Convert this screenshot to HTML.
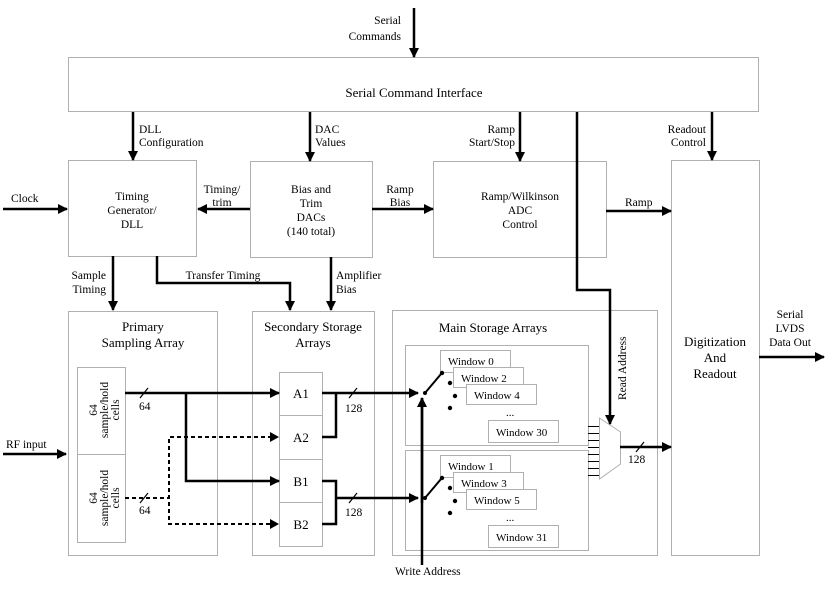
<!DOCTYPE html>
<html><head><meta charset="utf-8"><style>
html,body{margin:0;padding:0;background:#fff;}
svg{display:block;font-family:"Liberation Serif",serif;}
</style></head><body>
<svg width="830" height="595" viewBox="0 0 830 595" xmlns="http://www.w3.org/2000/svg">
<defs>
<marker id="a" markerWidth="10" markerHeight="10" refX="9" refY="5" orient="auto" markerUnits="userSpaceOnUse"><path d="M0,0 L10,5 L0,10 z" fill="#000"/></marker>
</defs>
<g fill="#fff" stroke="#b0b0b0" stroke-width="1">
<rect x="68.5" y="57.5" width="690" height="54"/>
<rect x="68.5" y="160.5" width="128" height="96"/>
<rect x="250.5" y="161.5" width="122" height="96"/>
<rect x="433.5" y="161.5" width="173" height="96"/>
<rect x="671.5" y="160.5" width="88" height="395"/>
<rect x="68.5" y="311.5" width="149" height="244"/>
<rect x="252.5" y="311.5" width="122" height="244"/>
<rect x="392.5" y="310.5" width="265" height="245"/>
<rect x="77.5" y="367.5" width="48" height="175"/>
<line x1="77" y1="454.5" x2="125" y2="454.5"/>
<rect x="279.5" y="372.5" width="43" height="174"/>
<line x1="279" y1="415.5" x2="322" y2="415.5"/>
<line x1="279" y1="459.5" x2="322" y2="459.5"/>
<line x1="279" y1="502.5" x2="322" y2="502.5"/>
<rect x="405.5" y="345.5" width="183" height="100"/>
<rect x="405.5" y="450.5" width="183" height="100"/>
<rect x="440.5" y="350.5" width="70" height="22"/>
<rect x="453.5" y="367.5" width="70" height="20"/>
<rect x="466.5" y="384.5" width="70" height="20"/>
<rect x="488.5" y="420.5" width="70" height="22"/>
<rect x="440.5" y="455.5" width="70" height="22"/>
<rect x="453.5" y="472.5" width="70" height="20"/>
<rect x="466.5" y="489.5" width="70" height="20"/>
<rect x="488.5" y="525.5" width="70" height="22"/>
<path d="M599.5,418 L620.5,432 L620.5,464 L599.5,479 z"/>
</g>
<g stroke="#000" stroke-width="1"><line x1="588" y1="426.5" x2="599" y2="426.5"/><line x1="588" y1="433.5" x2="599" y2="433.5"/><line x1="588" y1="440.5" x2="599" y2="440.5"/><line x1="588" y1="447.5" x2="599" y2="447.5"/><line x1="588" y1="454.5" x2="599" y2="454.5"/><line x1="588" y1="461.5" x2="599" y2="461.5"/><line x1="588" y1="468.5" x2="599" y2="468.5"/><line x1="588" y1="475.5" x2="599" y2="475.5"/></g>
<g stroke="#000" stroke-width="2.5" fill="none" marker-end="url(#a)">
<line x1="414" y1="8" x2="414" y2="57"/>
<line x1="133" y1="112" x2="133" y2="160"/>
<line x1="310" y1="112" x2="310" y2="161"/>
<line x1="520" y1="112" x2="520" y2="161"/>
<line x1="712" y1="112" x2="712" y2="160"/>
<line x1="3" y1="209" x2="67" y2="209"/>
<line x1="250" y1="209" x2="198" y2="209"/>
<line x1="372" y1="209" x2="433" y2="209"/>
<line x1="606" y1="211" x2="671" y2="211"/>
<line x1="113" y1="256" x2="113" y2="310"/>
<polyline points="157,256 157,283 290,283 290,310"/>
<line x1="331" y1="257" x2="331" y2="310"/>
<polyline points="577,112 577,290 610,290 610,424"/>
<line x1="3" y1="454" x2="66" y2="454"/>
<line x1="125" y1="393" x2="279" y2="393"/>
<polyline points="186,393 186,481 279,481"/>
<line x1="322" y1="393" x2="418" y2="393"/>
<line x1="336" y1="498" x2="418" y2="498"/>
<line x1="422" y1="565" x2="422" y2="398"/>
<line x1="620" y1="447" x2="671" y2="447"/>
<line x1="759" y1="357" x2="824" y2="357"/>
</g>
<g stroke="#000" stroke-width="2.5" fill="none">
<polyline points="322,437 336,437 336,393"/>
<polyline points="322,481 336,481 336,524 322,524"/>
<line x1="422" y1="398" x2="422" y2="503"/>
</g>
<g stroke="#000" stroke-width="2" fill="none" stroke-dasharray="4,3">
<line x1="125" y1="498" x2="169" y2="498"/>
<polyline points="272,437 169,437 169,524 272,524"/>
</g>
<g fill="#000"><path d="M270,432 L279,437 L270,442 z"/><path d="M270,519 L279,524 L270,529 z"/></g>
<g stroke="#000" stroke-width="2" fill="none">
<line x1="425" y1="393" x2="441" y2="374"/>
<line x1="425" y1="498" x2="441" y2="479"/>
</g>
<g fill="#000">
<circle cx="425" cy="393" r="2"/><circle cx="442" cy="373" r="2.2"/><circle cx="450" cy="383" r="2.2"/><circle cx="455" cy="396" r="2.2"/><circle cx="450" cy="408" r="2.2"/>
<circle cx="425" cy="498" r="2"/><circle cx="442" cy="478" r="2.2"/><circle cx="450" cy="488" r="2.2"/><circle cx="455" cy="501" r="2.2"/><circle cx="450" cy="513" r="2.2"/>
</g>
<g stroke="#000" stroke-width="1.2">
<line x1="140" y1="398" x2="148" y2="388"/><line x1="140" y1="503" x2="148" y2="493"/>
<line x1="349" y1="398" x2="357" y2="388"/><line x1="349" y1="503" x2="357" y2="493"/>
<line x1="636" y1="452" x2="644" y2="442"/>
</g>
<g font-size="11.5" fill="#000">
<text x="401" y="24" text-anchor="end">Serial</text>
<text x="401" y="40" text-anchor="end">Commands</text>
<text x="139" y="133">DLL</text><text x="139" y="146">Configuration</text>
<text x="315" y="133">DAC</text><text x="315" y="146">Values</text>
<text x="515" y="133" text-anchor="end">Ramp</text><text x="515" y="146" text-anchor="end">Start/Stop</text>
<text x="706" y="133" text-anchor="end">Readout</text><text x="706" y="146" text-anchor="end">Control</text>
<text x="11" y="202">Clock</text>
<text x="222" y="193" text-anchor="middle">Timing/</text><text x="222" y="206" text-anchor="middle">trim</text>
<text x="400" y="193" text-anchor="middle">Ramp</text><text x="400" y="206" text-anchor="middle">Bias</text>
<text x="625" y="206">Ramp</text>
<text x="132" y="200" text-anchor="middle">Timing</text><text x="132" y="214" text-anchor="middle">Generator/</text><text x="132" y="228" text-anchor="middle">DLL</text>
<text x="311" y="193" text-anchor="middle">Bias and</text><text x="311" y="207" text-anchor="middle">Trim</text><text x="311" y="221" text-anchor="middle">DACs</text><text x="311" y="235" text-anchor="middle">(140 total)</text>
<text x="520" y="200" text-anchor="middle">Ramp/Wilkinson</text><text x="520" y="214" text-anchor="middle">ADC</text><text x="520" y="228" text-anchor="middle">Control</text>
<text x="106" y="279" text-anchor="end">Sample</text><text x="106" y="293" text-anchor="end">Timing</text>
<text x="223" y="279" text-anchor="middle">Transfer Timing</text>
<text x="336" y="279">Amplifier</text><text x="336" y="293">Bias</text>
<text x="6" y="448">RF input</text>
<text x="139" y="410">64</text><text x="139" y="514">64</text>
<text x="345" y="412">128</text><text x="345" y="516">128</text>
<text x="628" y="463">128</text>
<text x="395" y="575">Write Address</text>
<text x="790" y="318" text-anchor="middle">Serial</text><text x="790" y="332" text-anchor="middle">LVDS</text><text x="790" y="346" text-anchor="middle">Data Out</text>
<text transform="translate(626,400) rotate(-90)">Read Address</text>
<text transform="translate(97,410) rotate(-90)" text-anchor="middle">64</text>
<text transform="translate(108,410) rotate(-90)" text-anchor="middle">sample/hold</text>
<text transform="translate(119,410) rotate(-90)" text-anchor="middle">cells</text>
<text transform="translate(97,498) rotate(-90)" text-anchor="middle">64</text>
<text transform="translate(108,498) rotate(-90)" text-anchor="middle">sample/hold</text>
<text transform="translate(119,498) rotate(-90)" text-anchor="middle">cells</text>
</g>
<g font-size="11" fill="#000">
<text x="448" y="365">Window 0</text><text x="461" y="382">Window 2</text><text x="474" y="399">Window 4</text>
<text x="506" y="416">...</text><text x="496" y="436">Window 30</text>
<text x="448" y="470">Window 1</text><text x="461" y="487">Window 3</text><text x="474" y="504">Window 5</text>
<text x="506" y="521">...</text><text x="496" y="541">Window 31</text>
</g>
<g font-size="13" fill="#000" text-anchor="middle">
<text x="414" y="97">Serial Command Interface</text>
<text x="143" y="331">Primary</text><text x="143" y="347">Sampling Array</text>
<text x="313" y="331">Secondary Storage</text><text x="313" y="347">Arrays</text>
<text x="493" y="332">Main Storage Arrays</text>
<text x="301" y="398">A1</text><text x="301" y="442">A2</text><text x="301" y="486">B1</text><text x="301" y="529">B2</text>
<text x="715" y="346">Digitization</text><text x="715" y="362">And</text><text x="715" y="378">Readout</text>
</g>
</svg>
</body></html>
